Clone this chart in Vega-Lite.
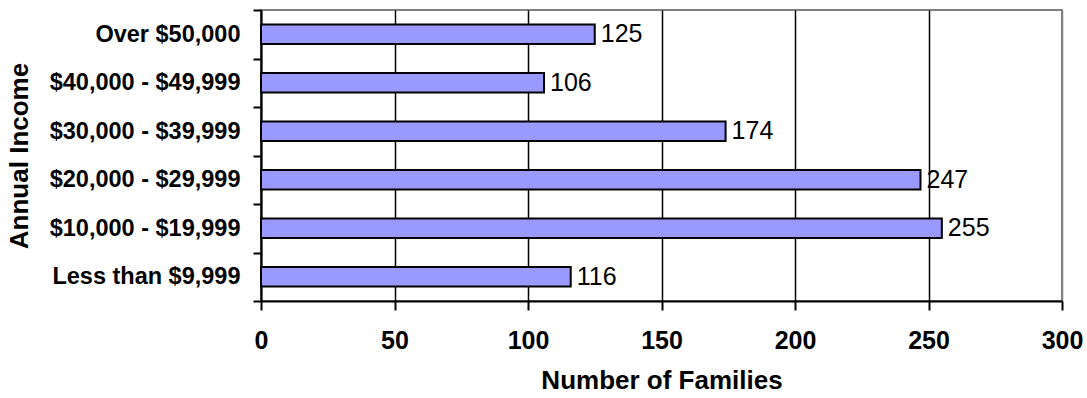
{
  "$schema": "https://vega.github.io/schema/vega-lite/v6.json",
  "width": 801,
  "height": 291,
  "autosize": {"type": "none"},
  "padding": {"left": 261, "top": 10, "right": 25, "bottom": 97},
  "background": "white",
  "config": {
    "font": "Liberation Sans",
    "view": {"stroke": "#808080", "strokeWidth": 2}
  },
  "data": {
    "values": [
      {"income": "Over $50,000", "families": 125},
      {"income": "$40,000 - $49,999", "families": 106},
      {"income": "$30,000 - $39,999", "families": 174},
      {"income": "$20,000 - $29,999", "families": 247},
      {"income": "$10,000 - $19,999", "families": 255},
      {"income": "Less than $9,999", "families": 116}
    ]
  },
  "encoding": {
    "y": {
      "field": "income",
      "type": "nominal",
      "sort": null,
      "scale": {"paddingInner": 0, "paddingOuter": 0},
      "axis": {
        "title": "Annual Income",
        "titleFont": "Liberation Sans",
        "titleFontSize": 26,
        "titleFontWeight": "bold",
        "titleColor": "black",
        "titlePadding": 29,
        "labelFont": "Liberation Sans",
        "labelFontSize": 23.5,
        "labelFontWeight": "bold",
        "labelColor": "black",
        "labelPadding": 13,
        "labelLimit": 0,
        "tickSize": 8,
        "tickWidth": 2,
        "tickColor": "black",
        "tickBand": "extent",
        "domainColor": "black",
        "domainWidth": 2,
        "grid": false
      }
    },
    "x": {
      "field": "families",
      "type": "quantitative",
      "scale": {"domain": [0, 300], "nice": false},
      "axis": {
        "title": "Number of Families",
        "titleFont": "Liberation Sans",
        "titleFontSize": 26,
        "titleFontWeight": "bold",
        "titleColor": "black",
        "titlePadding": 14,
        "values": [0, 50, 100, 150, 200, 250, 300],
        "labelFont": "Liberation Sans",
        "labelFontSize": 25,
        "labelFontWeight": "bold",
        "labelColor": "black",
        "labelPadding": 18,
        "labelFlush": false,
        "tickSize": 9,
        "tickWidth": 2,
        "tickColor": "black",
        "domainColor": "black",
        "domainWidth": 2,
        "grid": true,
        "gridColor": {"condition": {"test": "datum.value == 300", "value": "#808080"}, "value": "black"},
        "gridWidth": 1.5,
        "gridOpacity": 1
      }
    }
  },
  "layer": [
    {
      "mark": {"type": "bar", "fill": "#9999FF", "stroke": "black", "strokeWidth": 2, "height": {"band": 0.4}}
    },
    {
      "mark": {"type": "text", "align": "left", "baseline": "middle", "dx": 6, "fontSize": 25, "font": "Liberation Sans", "color": "black"},
      "encoding": {"text": {"field": "families", "type": "quantitative"}}
    }
  ]
}
